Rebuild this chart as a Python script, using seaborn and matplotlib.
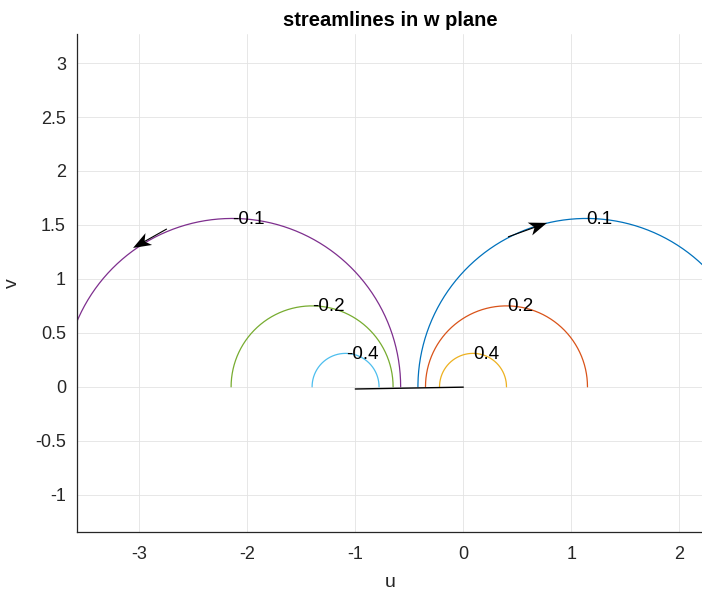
import numpy as np
import pandas as pd
import matplotlib
matplotlib.use("Agg")
import matplotlib.pyplot as plt
import seaborn as sns

# Streamline values and the semicircles they trace in the w plane
stream_values = [0.1, 0.2, 0.4, -0.1, -0.2, -0.4]
arc_centers = [1.14, 0.40, 0.09, -2.14, -1.40, -1.09]
arc_radii = [1.56, 0.75, 0.31, 1.56, 0.75, 0.31]
line_colors = ["#0072BD", "#D95319", "#EDB120", "#7E2F8E", "#77AC30", "#4DBEEE"]

# Label anchor points for each streamline
label_u = [1.26, 0.525, 0.21, -1.99, -1.245, -0.935]
label_v = [1.55, 0.745, 0.30, 1.55, 0.745, 0.30]

# Flat plate segment
plate_u = [-1.0, 0.0]
plate_v = [-0.02, -0.003]

# Direction arrows on the outer streamlines
arrow_u = [-2.745, 0.414]
arrow_v = [1.463, 1.389]
arrow_du = [-0.313, 0.361]
arrow_dv = [-0.176, 0.130]

sns.set_style("whitegrid")
plt.rcParams["font.family"] = ["Liberation Sans", "DejaVu Sans"]

fig = plt.figure(figsize=(7.02, 5.92), dpi=100)
ax = fig.add_axes([77 / 702, 60 / 592, 627 / 702, 498 / 592])

theta = np.linspace(0, np.pi, 400)
for val, c, r, col in zip(stream_values, arc_centers, arc_radii, line_colors):
    df = pd.DataFrame({"u": c + r * np.cos(theta), "v": r * np.sin(theta)})
    sns.lineplot(data=df, x="u", y="v", sort=False, estimator=None,
                 color=col, lw=0.9, ax=ax)

for val, lu, lv in zip(stream_values, label_u, label_v):
    ax.text(lu, lv, f"{val:g}", ha="center", va="center",
            fontsize=13.5, color="black")

sns.lineplot(x=plate_u, y=plate_v, color="black", lw=1.0, ax=ax)

ax.quiver(arrow_u, arrow_v, arrow_du, arrow_dv, angles="xy",
          scale_units="xy", scale=1, color="black", width=0.0018,
          headwidth=12, headlength=16, headaxislength=12, zorder=5)

ax.set_xlim(-3.577, 2.229)
ax.set_ylim(-1.345, 3.269)
ax.set_xticks([-3, -2, -1, 0, 1, 2])
ax.set_yticks([-1, -0.5, 0, 0.5, 1, 1.5, 2, 2.5, 3])
ax.set_yticklabels(["-1", "-0.5", "0", "0.5", "1", "1.5", "2", "2.5", "3"])
ax.set_xticklabels(["-3", "-2", "-1", "0", "1", "2"])

ax.grid(True, color="#e3e3e3", lw=0.6)
for side in ["top", "right"]:
    ax.spines[side].set_visible(False)
for side in ["left", "bottom"]:
    ax.spines[side].set_visible(True)
    ax.spines[side].set_color("#262626")
    ax.spines[side].set_linewidth(0.9)

ax.tick_params(axis="both", direction="in", length=5, width=0.8,
               color="#262626", labelcolor="#262626", labelsize=13)
ax.tick_params(axis="x", pad=10)
ax.tick_params(axis="y", pad=8)

ax.set_xlabel("u", fontsize=14, color="#262626", labelpad=8)
ax.set_ylabel("v", fontsize=14, color="#262626", labelpad=10)
ax.set_title("streamlines in w plane", fontsize=14.5, fontweight="bold",
             color="black", pad=6)

fig.savefig("out.png", dpi=100)
